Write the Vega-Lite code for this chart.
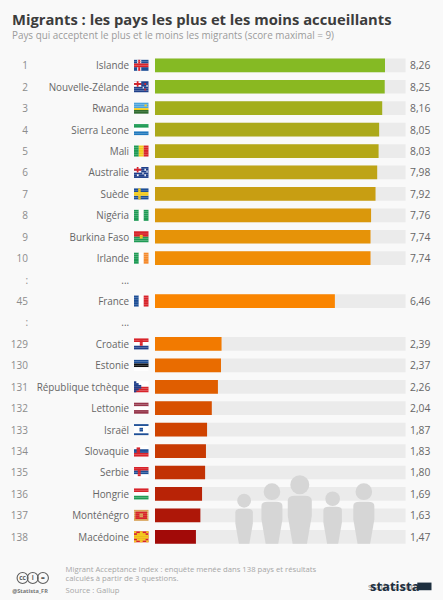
{
  "$schema": "https://vega.github.io/schema/vega-lite/v6.json",
  "width": 443,
  "height": 600,
  "padding": 0,
  "autosize": "none",
  "background": "#f9f9f9",
  "title": {
    "text": "Migrants : les pays les plus et les moins accueillants",
    "subtitle": "Pays qui acceptent le plus et le moins les migrants (score maximal = 9)",
    "anchor": "start",
    "dx": 12,
    "offset": -41,
    "font": "Open Sans",
    "fontSize": 14.75,
    "fontWeight": 700,
    "color": "#3c3c3c",
    "subtitleFont": "Open Sans",
    "subtitleFontSize": 9.9,
    "subtitleColor": "#9b9b9b",
    "subtitlePadding": 3
  },
  "config": {
    "view": { "stroke": null },
    "locale": { "number": { "decimal": ",", "thousands": " ", "grouping": [3], "currency": ["", " €"] } },
    "text": { "font": "Open Sans" }
  },
  "datasets": {
    "classement": [
      { "ligne": 1, "rang": "1", "pays": "Islande", "score": 8.26 },
      { "ligne": 2, "rang": "2", "pays": "Nouvelle-Zélande", "score": 8.25 },
      { "ligne": 3, "rang": "3", "pays": "Rwanda", "score": 8.16 },
      { "ligne": 4, "rang": "4", "pays": "Sierra Leone", "score": 8.05 },
      { "ligne": 5, "rang": "5", "pays": "Mali", "score": 8.03 },
      { "ligne": 6, "rang": "6", "pays": "Australie", "score": 7.98 },
      { "ligne": 7, "rang": "7", "pays": "Suède", "score": 7.92 },
      { "ligne": 8, "rang": "8", "pays": "Nigéria", "score": 7.76 },
      { "ligne": 9, "rang": "9", "pays": "Burkina Faso", "score": 7.74 },
      { "ligne": 10, "rang": "10", "pays": "Irlande", "score": 7.74 },
      { "ligne": 11, "rang": ":", "pays": "...", "score": null },
      { "ligne": 12, "rang": "45", "pays": "France", "score": 6.46 },
      { "ligne": 13, "rang": ":", "pays": "...", "score": null },
      { "ligne": 14, "rang": "129", "pays": "Croatie", "score": 2.39 },
      { "ligne": 15, "rang": "130", "pays": "Estonie", "score": 2.37 },
      { "ligne": 16, "rang": "131", "pays": "République tchèque", "score": 2.26 },
      { "ligne": 17, "rang": "132", "pays": "Lettonie", "score": 2.04 },
      { "ligne": 18, "rang": "133", "pays": "Israël", "score": 1.87 },
      { "ligne": 19, "rang": "134", "pays": "Slovaquie", "score": 1.83 },
      { "ligne": 20, "rang": "135", "pays": "Serbie", "score": 1.8 },
      { "ligne": 21, "rang": "136", "pays": "Hongrie", "score": 1.69 },
      { "ligne": 22, "rang": "137", "pays": "Monténégro", "score": 1.63 },
      { "ligne": 23, "rang": "138", "pays": "Macédoine", "score": 1.47 }
    ],
    "drapeaux": [
      { "ligne": 1, "teinte": "bleu", "de": 0, "a": 1, "bandes": [0, 1, 4, 5] },
      { "ligne": 1, "teinte": "blanc", "de": 0.22, "a": 0.5, "bandes": [0, 1, 4, 5] },
      { "ligne": 1, "teinte": "rouge", "de": 0.29, "a": 0.43, "bandes": [0, 1, 4, 5] },
      { "ligne": 1, "teinte": "rouge", "de": 0, "a": 1, "bandes": [2, 3] },
      { "ligne": 2, "teinte": "marine", "de": 0, "a": 1, "bandes": [0, 1, 2, 3, 4, 5] },
      { "ligne": 2, "teinte": "blanc", "de": 0, "a": 0.5, "bandes": [0, 2] },
      { "ligne": 2, "teinte": "rouge", "de": 0, "a": 0.5, "bandes": [1] },
      { "ligne": 2, "teinte": "rouge", "de": 0.19, "a": 0.31, "bandes": [0, 1, 2] },
      { "ligne": 2, "teinte": "rouge", "de": 0.72, "a": 0.82, "bandes": [1, 4] },
      { "ligne": 2, "teinte": "blanc", "de": 0.6, "a": 0.68, "bandes": [3] },
      { "ligne": 2, "teinte": "blanc", "de": 0.86, "a": 0.94, "bandes": [2] },
      { "ligne": 3, "teinte": "ciel", "de": 0, "a": 1, "bandes": [0, 1, 2] },
      { "ligne": 3, "teinte": "jaune", "de": 0.72, "a": 0.88, "bandes": [1] },
      { "ligne": 3, "teinte": "jaune", "de": 0, "a": 1, "bandes": [3] },
      { "ligne": 3, "teinte": "vertfonce", "de": 0, "a": 1, "bandes": [4, 5] },
      { "ligne": 4, "teinte": "vert", "de": 0, "a": 1, "bandes": [0, 1] },
      { "ligne": 4, "teinte": "blanc", "de": 0, "a": 1, "bandes": [2, 3] },
      { "ligne": 4, "teinte": "azur", "de": 0, "a": 1, "bandes": [4, 5] },
      { "ligne": 5, "teinte": "vert", "de": 0, "a": 0.33, "bandes": [0, 1, 2, 3, 4, 5] },
      { "ligne": 5, "teinte": "jaune", "de": 0.33, "a": 0.67, "bandes": [0, 1, 2, 3, 4, 5] },
      { "ligne": 5, "teinte": "rouge", "de": 0.67, "a": 1, "bandes": [0, 1, 2, 3, 4, 5] },
      { "ligne": 6, "teinte": "marine", "de": 0, "a": 1, "bandes": [0, 1, 2, 3, 4, 5] },
      { "ligne": 6, "teinte": "blanc", "de": 0, "a": 0.5, "bandes": [0, 2] },
      { "ligne": 6, "teinte": "rouge", "de": 0, "a": 0.5, "bandes": [1] },
      { "ligne": 6, "teinte": "rouge", "de": 0.19, "a": 0.31, "bandes": [0, 1, 2] },
      { "ligne": 6, "teinte": "blanc", "de": 0.72, "a": 0.82, "bandes": [1, 4] },
      { "ligne": 6, "teinte": "blanc", "de": 0.58, "a": 0.66, "bandes": [3] },
      { "ligne": 6, "teinte": "blanc", "de": 0.86, "a": 0.94, "bandes": [2] },
      { "ligne": 6, "teinte": "blanc", "de": 0.2, "a": 0.32, "bandes": [4] },
      { "ligne": 7, "teinte": "bleu", "de": 0, "a": 1, "bandes": [0, 1, 4, 5] },
      { "ligne": 7, "teinte": "jaune", "de": 0.29, "a": 0.46, "bandes": [0, 1, 4, 5] },
      { "ligne": 7, "teinte": "jaune", "de": 0, "a": 1, "bandes": [2, 3] },
      { "ligne": 8, "teinte": "vert", "de": 0, "a": 0.33, "bandes": [0, 1, 2, 3, 4, 5] },
      { "ligne": 8, "teinte": "blanc", "de": 0.33, "a": 0.67, "bandes": [0, 1, 2, 3, 4, 5] },
      { "ligne": 8, "teinte": "vert", "de": 0.67, "a": 1, "bandes": [0, 1, 2, 3, 4, 5] },
      { "ligne": 9, "teinte": "rouge", "de": 0, "a": 1, "bandes": [0, 1, 2] },
      { "ligne": 9, "teinte": "vert", "de": 0, "a": 1, "bandes": [3, 4, 5] },
      { "ligne": 9, "teinte": "jaune", "de": 0.4, "a": 0.6, "bandes": [2, 3] },
      { "ligne": 10, "teinte": "vert", "de": 0, "a": 0.33, "bandes": [0, 1, 2, 3, 4, 5] },
      { "ligne": 10, "teinte": "blanc", "de": 0.33, "a": 0.67, "bandes": [0, 1, 2, 3, 4, 5] },
      { "ligne": 10, "teinte": "orange", "de": 0.67, "a": 1, "bandes": [0, 1, 2, 3, 4, 5] },
      { "ligne": 12, "teinte": "bleu", "de": 0, "a": 0.33, "bandes": [0, 1, 2, 3, 4, 5] },
      { "ligne": 12, "teinte": "blanc", "de": 0.33, "a": 0.67, "bandes": [0, 1, 2, 3, 4, 5] },
      { "ligne": 12, "teinte": "rouge", "de": 0.67, "a": 1, "bandes": [0, 1, 2, 3, 4, 5] },
      { "ligne": 14, "teinte": "rouge", "de": 0, "a": 1, "bandes": [0, 1] },
      { "ligne": 14, "teinte": "blanc", "de": 0, "a": 1, "bandes": [2, 3] },
      { "ligne": 14, "teinte": "marine", "de": 0, "a": 1, "bandes": [4, 5] },
      { "ligne": 14, "teinte": "rouge", "de": 0.4, "a": 0.6, "bandes": [1, 2, 3] },
      { "ligne": 15, "teinte": "bleu", "de": 0, "a": 1, "bandes": [0, 1] },
      { "ligne": 15, "teinte": "noir", "de": 0, "a": 1, "bandes": [2, 3] },
      { "ligne": 15, "teinte": "blanc", "de": 0, "a": 1, "bandes": [4, 5] },
      { "ligne": 16, "teinte": "blanc", "de": 0, "a": 1, "bandes": [0, 1, 2] },
      { "ligne": 16, "teinte": "rouge", "de": 0, "a": 1, "bandes": [3, 4, 5] },
      { "ligne": 16, "teinte": "marine", "de": 0, "a": 0.16, "bandes": [0, 5] },
      { "ligne": 16, "teinte": "marine", "de": 0, "a": 0.32, "bandes": [1, 4] },
      { "ligne": 16, "teinte": "marine", "de": 0, "a": 0.5, "bandes": [2, 3] },
      { "ligne": 17, "teinte": "bordeaux", "de": 0, "a": 1, "bandes": [0, 1, 4, 5] },
      { "ligne": 17, "teinte": "blanc", "de": 0, "a": 1, "bandes": [2, 3] },
      { "ligne": 18, "teinte": "blanc", "de": 0, "a": 1, "bandes": [1, 2, 3, 4] },
      { "ligne": 18, "teinte": "bleu", "de": 0, "a": 1, "bandes": [0, 5] },
      { "ligne": 18, "teinte": "bleu", "de": 0.38, "a": 0.62, "bandes": [2, 3] },
      { "ligne": 19, "teinte": "blanc", "de": 0, "a": 1, "bandes": [0, 1] },
      { "ligne": 19, "teinte": "bleu", "de": 0, "a": 1, "bandes": [2, 3] },
      { "ligne": 19, "teinte": "rouge", "de": 0, "a": 1, "bandes": [4, 5] },
      { "ligne": 19, "teinte": "rouge", "de": 0.18, "a": 0.42, "bandes": [1, 2, 3] },
      { "ligne": 20, "teinte": "rouge", "de": 0, "a": 1, "bandes": [0, 1] },
      { "ligne": 20, "teinte": "bleu", "de": 0, "a": 1, "bandes": [2, 3] },
      { "ligne": 20, "teinte": "blanc", "de": 0, "a": 1, "bandes": [4, 5] },
      { "ligne": 20, "teinte": "rouge", "de": 0.26, "a": 0.46, "bandes": [1, 2, 3, 4] },
      { "ligne": 21, "teinte": "rouge", "de": 0, "a": 1, "bandes": [0, 1] },
      { "ligne": 21, "teinte": "blanc", "de": 0, "a": 1, "bandes": [2, 3] },
      { "ligne": 21, "teinte": "vert", "de": 0, "a": 1, "bandes": [4, 5] },
      { "ligne": 22, "teinte": "ocre", "de": 0, "a": 1, "bandes": [0, 1, 2, 3, 4, 5] },
      { "ligne": 22, "teinte": "rouge", "de": 0.1, "a": 0.9, "bandes": [1, 2, 3, 4] },
      { "ligne": 22, "teinte": "ocre", "de": 0.38, "a": 0.62, "bandes": [2, 3] },
      { "ligne": 23, "teinte": "rouge", "de": 0, "a": 1, "bandes": [0, 1, 2, 3, 4, 5] },
      { "ligne": 23, "teinte": "jaune", "de": 0, "a": 1, "bandes": [2, 3] },
      { "ligne": 23, "teinte": "jaune", "de": 0, "a": 0.16, "bandes": [0, 5] },
      { "ligne": 23, "teinte": "jaune", "de": 0.4, "a": 0.6, "bandes": [0, 1, 4, 5] },
      { "ligne": 23, "teinte": "jaune", "de": 0.84, "a": 1, "bandes": [0, 5] },
      { "ligne": 23, "teinte": "jaune", "de": 0.2, "a": 0.8, "bandes": [1, 4] }
    ],
    "silhouettes": [
      { "personne": "a", "position": 3.2, "taille": 35, "corps": 17.5, "tete": 43 },
      { "personne": "b", "position": 4.2, "taille": 42, "corps": 21, "tete": 52 },
      { "personne": "c", "position": 5.2, "taille": 48, "corps": 24, "tete": 59 },
      { "personne": "d", "position": 6.38, "taille": 37, "corps": 18.5, "tete": 45 },
      { "personne": "e", "position": 7.5, "taille": 42, "corps": 21, "tete": 52 }
    ],
    "notes": [
      { "ligne": 1, "texte": "Migrant Acceptance Index : enquête menée dans 138 pays et résultats" },
      { "ligne": 2, "texte": "calculés à partir de 3 questions." },
      { "ligne": 3.33, "texte": "Source : Gallup" }
    ],
    "licence": [
      { "icone": "cc", "signe": "cc" },
      { "icone": "by", "signe": "i" },
      { "icone": "nd", "signe": "=" }
    ]
  },
  "resolve": {
    "scale": { "x": "independent", "y": "independent", "color": "independent", "size": "independent" }
  },
  "layer": [
    {
      "data": { "name": "classement" },
      "encoding": {
        "y": {
          "field": "ligne",
          "type": "ordinal",
          "axis": null,
          "scale": { "range": [54.6, 547.5], "paddingInner": 0.36, "paddingOuter": 0.18 }
        }
      },
      "layer": [
        {
          "transform": [{ "filter": "datum.score != null" }],
          "mark": { "type": "bar", "color": "#ebebeb" },
          "encoding": {
            "x": { "datum": 9, "type": "quantitative", "axis": null, "scale": { "domain": [0, 9], "range": [155, 405.6] } }
          }
        },
        {
          "transform": [{ "filter": "datum.score != null" }],
          "mark": { "type": "text", "align": "right", "baseline": "middle", "dy": 1, "fontSize": 10.3, "color": "#666666" },
          "encoding": {
            "x": { "datum": 9.89, "type": "quantitative", "axis": null, "scale": { "domain": [0, 9], "range": [155, 405.6] } },
            "text": { "field": "score", "type": "quantitative", "format": ".2f" }
          }
        },
        {
          "mark": { "type": "text", "align": "right", "baseline": "middle", "dy": 1, "fontSize": 9.9, "color": "#666666" },
          "encoding": {
            "x": { "datum": -0.93, "type": "quantitative", "axis": null, "scale": { "domain": [0, 9], "range": [155, 405.6] } },
            "text": { "field": "pays", "type": "nominal" }
          }
        },
        {
          "mark": { "type": "text", "align": "right", "baseline": "middle", "dy": 1, "fontSize": 10, "color": "#8c8c8c" },
          "encoding": {
            "x": { "datum": -4.56, "type": "quantitative", "axis": null, "scale": { "domain": [0, 9], "range": [155, 405.6] } },
            "text": { "field": "rang", "type": "nominal" }
          }
        }
      ]
    },
    {
      "data": { "name": "silhouettes" },
      "mark": {
        "type": "point",
        "filled": true,
        "opacity": 1,
        "color": "#d6d6d6",
        "shape": "M-0.5 -0.8 Q-0.5 -1 -0.2 -1 L0.2 -1 Q0.5 -1 0.5 -0.8 L0.5 -0.15 L0.3 1 L-0.3 1 L-0.5 -0.15 Z"
      },
      "encoding": {
        "x": { "field": "position", "type": "quantitative", "axis": null, "scale": { "domain": [0, 9], "range": [155, 405.6] } },
        "y": { "field": "corps", "type": "quantitative", "axis": null, "scale": { "domain": [0, 60], "range": [543.7, 483.7] } },
        "size": { "field": "taille", "type": "quantitative", "legend": null, "scale": { "type": "pow", "exponent": 2, "domain": [0, 48], "range": [0, 2304] } }
      }
    },
    {
      "data": { "name": "silhouettes" },
      "mark": { "type": "point", "filled": true, "opacity": 1, "shape": "circle", "color": "#d6d6d6" },
      "encoding": {
        "x": { "field": "position", "type": "quantitative", "axis": null, "scale": { "domain": [0, 9], "range": [155, 405.6] } },
        "y": { "field": "tete", "type": "quantitative", "axis": null, "scale": { "domain": [0, 60], "range": [543.7, 483.7] } },
        "size": { "field": "taille", "type": "quantitative", "legend": null, "scale": { "type": "pow", "exponent": 2, "domain": [0, 48], "range": [0, 361] } }
      }
    },
    {
      "data": { "name": "classement" },
      "transform": [{ "filter": "datum.score != null" }],
      "mark": "bar",
      "encoding": {
        "y": {
          "field": "ligne",
          "type": "ordinal",
          "axis": null,
          "scale": { "domain": [1, 2, 3, 4, 5, 6, 7, 8, 9, 10, 11, 12, 13, 14, 15, 16, 17, 18, 19, 20, 21, 22, 23], "range": [54.6, 547.5], "paddingInner": 0.36, "paddingOuter": 0.18 }
        },
        "x": { "field": "score", "type": "quantitative", "axis": null, "scale": { "domain": [0, 9], "range": [155, 405.6] } },
        "color": {
          "field": "ligne",
          "type": "ordinal",
          "legend": null,
          "scale": {
            "domain": [1, 2, 3, 4, 5, 6, 7, 8, 9, 10, 12, 14, 15, 16, 17, 18, 19, 20, 21, 22, 23],
            "range": ["#85ba24", "#8ab821", "#a3ae1c", "#aba91a", "#b4a717", "#bea416", "#c89e12", "#da980c", "#e69308", "#f08d06", "#fa8500", "#f27a00", "#e96c00", "#e05e00", "#d85000", "#cf4300", "#c83a02", "#c23204", "#b82306", "#ae1708", "#a20a08"]
          }
        }
      }
    },
    {
      "data": { "name": "drapeaux" },
      "transform": [{ "flatten": ["bandes"], "as": ["bande"] }],
      "mark": "rect",
      "encoding": {
        "y": {
          "field": "ligne",
          "type": "ordinal",
          "axis": null,
          "scale": { "domain": [1, 2, 3, 4, 5, 6, 7, 8, 9, 10, 11, 12, 13, 14, 15, 16, 17, 18, 19, 20, 21, 22, 23], "range": [54.6, 547.5], "paddingInner": 0.487, "paddingOuter": 0.2435 }
        },
        "yOffset": { "field": "bande", "type": "ordinal", "scale": { "domain": [0, 1, 2, 3, 4, 5] } },
        "x": { "field": "de", "type": "quantitative", "axis": null, "scale": { "domain": [0, 1], "range": [134, 148.5] } },
        "x2": { "field": "a" },
        "color": {
          "field": "teinte",
          "type": "nominal",
          "legend": null,
          "scale": {
            "domain": ["bleu", "marine", "ciel", "azur", "rouge", "bordeaux", "blanc", "vert", "vertfonce", "jaune", "orange", "noir", "ocre"],
            "range": ["#1d4e96", "#1f3f8a", "#4aa3dc", "#1f78bd", "#d8232a", "#96354a", "#ffffff", "#1e9b55", "#2f6b2f", "#f2cb1d", "#f58a2c", "#111111", "#d9a45a"]
          }
        }
      }
    },
    {
      "data": { "name": "notes" },
      "mark": { "type": "text", "align": "left", "baseline": "middle", "fontSize": 7.7, "color": "#a6a6a6" },
      "encoding": {
        "x": { "datum": -3.21, "type": "quantitative", "axis": null, "scale": { "domain": [0, 9], "range": [155, 405.6] } },
        "y": { "field": "ligne", "type": "quantitative", "axis": null, "scale": { "domain": [1, 3.33], "range": [569.5, 590.5] } },
        "text": { "field": "texte", "type": "nominal" }
      }
    },
    {
      "data": { "name": "licence" },
      "encoding": {
        "x": { "field": "icone", "type": "nominal", "axis": null, "sort": null, "scale": { "type": "point", "domain": ["cc", "by", "nd"], "range": [17.5, 48] } },
        "y": { "datum": 2, "type": "quantitative", "axis": null, "scale": { "domain": [1, 3], "range": [569, 587] } }
      },
      "layer": [
        { "mark": { "type": "point", "shape": "circle", "size": 121, "filled": false, "opacity": 1, "color": "#5f5f5f", "strokeWidth": 1.1 } },
        {
          "mark": { "type": "text", "align": "center", "baseline": "middle", "fontSize": 6.5, "fontWeight": 700, "color": "#5f5f5f" },
          "encoding": { "text": { "field": "signe", "type": "nominal" } }
        }
      ]
    },
    {
      "data": { "values": [{ "texte": "@Statista_FR" }] },
      "mark": { "type": "text", "align": "left", "baseline": "middle", "fontSize": 5.6, "fontWeight": 700, "color": "#777777" },
      "encoding": {
        "x": { "datum": -5.13, "type": "quantitative", "axis": null, "scale": { "domain": [0, 9], "range": [155, 405.6] } },
        "y": { "datum": 3.33, "type": "quantitative", "axis": null, "scale": { "domain": [1, 3.33], "range": [569.5, 590.5] } },
        "text": { "field": "texte", "type": "nominal" }
      }
    },
    {
      "data": { "values": [{ "texte": "statista.com" }] },
      "mark": { "type": "text", "align": "left", "baseline": "middle", "fontSize": 9, "color": "#8f8f8f" },
      "encoding": {
        "x": { "datum": 7.65, "type": "quantitative", "axis": null, "scale": { "domain": [0, 9], "range": [155, 405.6] } },
        "y": { "datum": 2.9, "type": "quantitative", "axis": null, "scale": { "domain": [1, 3.33], "range": [569.5, 590.5] } },
        "text": { "field": "texte", "type": "nominal" }
      }
    },
    {
      "data": { "values": [{ "texte": "statista" }] },
      "mark": { "type": "text", "align": "left", "baseline": "middle", "fontSize": 13, "fontWeight": 700, "color": "#1d2f3f" },
      "encoding": {
        "x": { "datum": 7.72, "type": "quantitative", "axis": null, "scale": { "domain": [0, 9], "range": [155, 405.6] } },
        "y": { "datum": 2.9, "type": "quantitative", "axis": null, "scale": { "domain": [1, 3.33], "range": [569.5, 590.5] } },
        "text": { "field": "texte", "type": "nominal" }
      }
    },
    {
      "data": { "values": [{ "logo": "statista" }] },
      "mark": { "type": "rect", "color": "#1d2f3f" },
      "encoding": {
        "x": { "datum": 9.42, "type": "quantitative", "axis": null, "scale": { "domain": [0, 9], "range": [155, 405.6] } },
        "x2": { "datum": 9.93 },
        "y": { "datum": 2.45, "type": "quantitative", "axis": null, "scale": { "domain": [1, 3.33], "range": [569.5, 590.5] } },
        "y2": { "datum": 3.3 }
      }
    }
  ]
}
